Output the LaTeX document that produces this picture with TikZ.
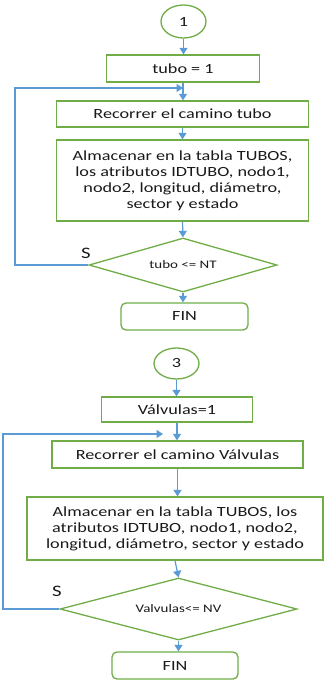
\documentclass[tikz,border=0pt]{standalone}
\usepackage{fontspec}
\setmainfont{Carlito}[FakeStretch=1.3]
\usetikzlibrary{shapes.geometric,arrows.meta}
\definecolor{boxgreen}{HTML}{70AD47}
\definecolor{flowblue}{HTML}{5B9BD5}
\definecolor{ink}{HTML}{1A1A1A}
\begin{document}
\begin{tikzpicture}[x=1pt,y=-1pt,
  base/.style={draw=boxgreen,line width=1.3pt,fill=white,text=ink,inner sep=0pt,align=center,
    font=\fontsize{14}{16}\selectfont},
  process/.style={base,rectangle},
  terminal/.style={base,rectangle,rounded corners=5pt},
  connector/.style={base,ellipse},
  decision/.style={base,diamond,font=\fontsize{11.5}{13}\selectfont},
  flow/.style={draw=flowblue,line width=1.2pt,-{Triangle[width=8pt,length=6.5pt]}},
  lbl/.style={text=ink,font=\fontsize{16}{18}\selectfont,inner sep=0pt}]
\useasboundingbox (0,0) rectangle (325,682);

% ---- first loop: tubos ----
\node[connector,minimum width=45pt,minimum height=33pt] (c1) at (183.5,21.5) {1};
\node[process,minimum width=153pt,minimum height=27pt] (b1) at (183,68.5) {tubo = 1};
\node[process,minimum width=252pt,minimum height=26pt] (r1) at (182.5,114) {Recorrer el camino tubo};
\node[process,minimum width=252pt,minimum height=81pt] (a1) at (182.5,180.5)
  {Almacenar en la tabla TUBOS,\\ los atributos IDTUBO, nodo1,\\ nodo2, longitud, diámetro,\\ sector y estado};
\node[decision,minimum width=188pt,minimum height=54pt,shape aspect=3.48] (d1) at (183,265) {tubo <= NT};
\node[terminal,minimum width=127pt,minimum height=27pt] (f1) at (184.5,316.5) {FIN};
\node[lbl] (s1) at (86,253) {S};

\coordinate (l1) at (15,88);
\coordinate (j1) at (183,88);

\draw[flow] (c1.south) -- (c1.south |- b1.north);
\draw[flow] (b1.south) -- (b1.south |- r1.north);
\draw[flow] (r1.south) -- (r1.south |- a1.north);
\draw[flow] (a1.south) -- (d1.north);
\draw[flow] (d1.south) -- (d1.south |- f1.north);
\draw[flow] (d1.west) -| (l1) -- (j1);

% ---- second loop: valvulas ----
\node[connector,minimum width=45pt,minimum height=31pt] (c3) at (176.5,363.5) {3};
\node[process,minimum width=151pt,minimum height=25pt] (b2) at (177,409.5) {Válvulas=1};
\node[process,minimum width=251pt,minimum height=27pt] (r2) at (177.5,454.5) {Recorrer el camino Válvulas};
\node[process,minimum width=296pt,minimum height=63pt] (a2) at (175,528.5)
  {Almacenar en la tabla TUBOS, los\\ atributos IDTUBO, nodo1, nodo2,\\ longitud, diámetro, sector y estado};
\node[decision,minimum width=237pt,minimum height=62pt,shape aspect=3.82] (d2) at (178.5,609) {Valvulas<= NV};
\node[terminal,minimum width=126pt,minimum height=27pt] (f2) at (175,665.5) {FIN};
\node[lbl] (s2) at (57,591) {S};

\coordinate (l2) at (3,434);
\coordinate (j2) at (163,434);

\draw[flow] (c3.south) -- (c3.south |- b2.north);
\draw[flow] (b2.south) -- (b2.south |- r2.north);
\draw[flow] (r2.south) -- (r2.south |- a2.north);
\draw[flow] (a2.south) -- (d2.north);
\draw[flow] (d2.south) -- (d2.south |- f2.north);
\draw[flow] (d2.west) -| (l2) -- (j2);
\end{tikzpicture}
\end{document}
